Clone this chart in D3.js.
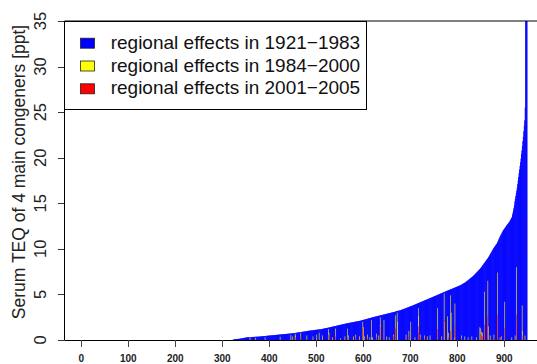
<!DOCTYPE html>
<html>
<head>
<meta charset="utf-8">
<script src="https://cdn.jsdelivr.net/npm/d3@7"></script>
<style>
  body { margin: 0; background: #fff; }
  svg { display: block; }
  text { font-family: "Liberation Sans", Arial, Helvetica, sans-serif; }
</style>
</head>
<body>
<svg id="chart" width="537" height="364"></svg>
<script>
// Serum TEQ per region, sorted ascending (regional effects 1921-1983)
const blueValues = [
  0,0,0,0,0,0,0,0,0,0,0,0,0,0,0,0,0,0,0,0,
  0,0,0,0,0,0,0,0,0,0,0,0,0,0,0,0,0,0,0,0,
  0,0,0,0,0,0,0,0,0,0,0,0,0,0,0,0,0,0,0,0,
  0,0,0,0,0,0,0,0,0,0,0,0,0,0,0,0,0,0,0,0,
  0,0,0,0,0,0,0,0,0,0,0,0,0,0,0,0,0,0,0,0,
  0,0,0,0,0,0,0,0,0,0,0,0,0,0,0,0,0,0,0,0,
  0,0,0,0,0,0,0,0,0,0,0,0,0,0,0,0,0,0,0,0,
  0,0,0,0,0,0,0,0,0,0,0,0,0,0,0,0,0,0,0,0,
  0,0,0,0,0,0,0,0,0,0,0,0,0,0,0,0,0,0,0,0,
  0,0,0,0,0,0,0,0,0,0,0,0,0,0,0,0,0,0,0,0,
  0,0,0,0,0,0,0,0,0,0,0,0,0,0,0,0,0,0,0,0,
  0,0,0,0,0,0,0,0,0,0,0,0,0,0,0,0,0,0,0,0,
  0,0,0,0,0,0,0,0,0,0,0,0,0,0,0,0,0,0,0,0,
  0,0,0,0,0,0,0,0,0,0,0,0,0,0,0,0,0,0,0,0,
  0,0,0,0,0,0,0,0,0,0,0,0,0,0,0,0,0,0,0,0,
  0,0,0,0,0,0,0,0,0,0,0,0,0,0,0,0,0,0,0,0,
  0,0,0,0.05,0.06,0.07,0.08,0.09,0.1,0.1,
  0.1,0.11,0.11,0.12,0.12,0.13,0.13,0.14,0.15,0.16,
  0.17,0.18,0.19,0.2,0.21,0.22,0.23,0.24,0.25,0.26,
  0.27,0.28,0.29,0.29,0.3,0.3,0.3,0.31,0.31,0.31,
  0.32,0.32,0.32,0.33,0.33,0.33,0.34,0.34,0.34,0.35,
  0.35,0.35,0.35,0.36,0.36,0.36,0.36,0.37,0.37,0.38,
  0.38,0.39,0.39,0.4,0.4,0.41,0.41,0.42,0.42,0.43,
  0.43,0.44,0.44,0.45,0.46,0.46,0.47,0.47,0.48,0.48,
  0.49,0.49,0.5,0.5,0.51,0.51,0.52,0.52,0.53,0.53,
  0.54,0.54,0.55,0.55,0.56,0.56,0.57,0.57,0.58,0.58,
  0.59,0.59,0.6,0.6,0.61,0.61,0.62,0.62,0.63,0.63,
  0.64,0.64,0.65,0.65,0.66,0.66,0.67,0.67,0.68,0.68,
  0.69,0.69,0.7,0.7,0.71,0.71,0.72,0.72,0.73,0.73,
  0.74,0.75,0.76,0.76,0.77,0.78,0.79,0.79,0.8,0.81,
  0.82,0.83,0.83,0.84,0.85,0.86,0.87,0.87,0.88,0.89,
  0.9,0.91,0.91,0.92,0.93,0.94,0.95,0.95,0.96,0.97,
  0.98,0.99,1.0,1.01,1.01,1.02,1.03,1.04,1.04,1.05,
  1.06,1.06,1.07,1.08,1.08,1.09,1.1,1.1,1.11,1.12,
  1.12,1.13,1.14,1.14,1.15,1.16,1.16,1.17,1.17,1.18,
  1.19,1.2,1.21,1.22,1.23,1.24,1.26,1.27,1.28,1.29,
  1.3,1.31,1.32,1.33,1.34,1.35,1.36,1.37,1.39,1.4,
  1.41,1.42,1.44,1.45,1.46,1.47,1.48,1.5,1.51,1.52,
  1.53,1.54,1.56,1.57,1.58,1.59,1.6,1.62,1.63,1.64,
  1.65,1.66,1.68,1.69,1.7,1.71,1.72,1.74,1.75,1.76,
  1.77,1.78,1.8,1.81,1.82,1.83,1.84,1.85,1.86,1.87,
  1.88,1.89,1.9,1.91,1.92,1.93,1.94,1.95,1.96,1.97,
  1.98,1.99,2.0,2.01,2.02,2.03,2.04,2.05,2.06,2.07,
  2.08,2.09,2.1,2.11,2.12,2.13,2.15,2.17,2.18,2.2,
  2.21,2.22,2.24,2.25,2.27,2.28,2.29,2.31,2.32,2.34,
  2.35,2.37,2.38,2.4,2.41,2.42,2.44,2.45,2.47,2.48,
  2.5,2.51,2.52,2.54,2.55,2.56,2.58,2.59,2.6,2.61,
  2.63,2.64,2.65,2.66,2.68,2.69,2.7,2.72,2.73,2.74,
  2.75,2.77,2.78,2.79,2.81,2.82,2.83,2.84,2.86,2.87,
  2.88,2.89,2.91,2.92,2.93,2.95,2.96,2.97,2.98,3.0,
  3.01,3.02,3.03,3.05,3.06,3.07,3.08,3.1,3.12,3.14,
  3.16,3.17,3.19,3.2,3.21,3.22,3.23,3.24,3.25,3.27,
  3.29,3.31,3.33,3.35,3.37,3.39,3.41,3.43,3.45,3.47,
  3.49,3.51,3.53,3.55,3.57,3.59,3.61,3.63,3.65,3.67,
  3.69,3.71,3.73,3.75,3.77,3.79,3.81,3.84,3.86,3.88,
  3.9,3.92,3.94,3.96,3.99,4.01,4.03,4.05,4.07,4.1,
  4.12,4.14,4.16,4.18,4.21,4.23,4.25,4.27,4.29,4.32,
  4.34,4.36,4.38,4.4,4.43,4.45,4.47,4.49,4.51,4.54,
  4.56,4.58,4.6,4.62,4.64,4.67,4.69,4.71,4.73,4.76,
  4.78,4.8,4.82,4.84,4.87,4.89,4.91,4.93,4.96,4.98,
  5.0,5.02,5.04,5.07,5.09,5.11,5.13,5.16,5.18,5.2,
  5.22,5.24,5.27,5.29,5.31,5.33,5.36,5.38,5.4,5.42,
  5.44,5.46,5.48,5.51,5.53,5.55,5.57,5.59,5.61,5.63,
  5.66,5.68,5.7,5.72,5.74,5.76,5.78,5.81,5.83,5.85,
  5.87,5.89,5.91,5.94,5.96,5.98,6.0,6.03,6.06,6.09,
  6.12,6.15,6.18,6.21,6.24,6.27,6.3,6.34,6.38,6.42,
  6.46,6.5,6.54,6.58,6.63,6.67,6.71,6.75,6.79,6.83,
  6.88,6.92,6.96,7.0,7.05,7.11,7.16,7.21,7.27,7.32,
  7.37,7.43,7.48,7.53,7.59,7.64,7.69,7.75,7.8,7.87,
  7.94,8.01,8.08,8.15,8.22,8.3,8.37,8.44,8.51,8.58,
  8.65,8.72,8.79,8.86,8.93,9.0,9.09,9.18,9.27,9.36,
  9.45,9.54,9.63,9.72,9.81,9.9,10.0,10.08,10.15,10.23,
  10.3,10.38,10.45,10.53,10.6,10.71,10.83,10.94,11.06,11.17,
  11.29,11.4,11.5,11.6,11.7,11.8,11.9,12.0,12.08,12.15,
  12.23,12.3,12.38,12.45,12.53,12.6,12.67,12.73,12.8,12.87,
  12.93,13.0,13.1,13.2,13.3,13.4,13.5,13.75,14.0,14.25,
  14.5,14.8,15.2,15.5,15.8,16.1,16.4,16.7,17.1,17.5,
  17.9,18.3,18.7,19.1,19.5,19.9,20.4,20.8,21.3,21.8,
  22.3,22.9,23.5,24.1,25.5,37,41,46,55
];

// Regional effects 1984-2000: region rank and value
const yellowRank = [
  359,370,391,423,446,450,455,456,467,480,493,501,506,513,526,527,535,541,552,561,
  566,568,579,584,592,599,600,602,609,614,617,620,628,633,636,637,644,650,655,664,
  668,672,673,691,697,701,710,717,718,721,730,736,742,758,767,772,773,779,781,786,
  787,794,795,809,816,823,831,841,848,850,851,854,858,865,866,870,878,886,891,894,
  901,916,923,926,938,939,944
];
const yellowValue = [
  0.3,0.25,0.3,0.35,0.55,0.4,0.7,0.5,0.8,0.5,0.4,0.6,0.8,0.5,1.2,0.8,0.3,1.25,0.2,0.4,
  1.25,0.5,0.4,0.6,0.4,2.0,1.4,0.4,0.6,0.3,2.2,0.3,0.7,0.5,2.5,1.6,2.2,0.4,0.3,0.6,
  2.7,3.0,2.0,0.6,1.0,2.0,0.3,3.5,2.6,0.6,0.5,0.4,0.5,3.5,0.4,5.1,2.0,2.6,0.8,4.9,
  3.0,0.3,4.0,0.5,0.4,0.3,0.4,0.3,1.4,1.3,0.9,0.8,5.3,6.5,1.5,0.5,0.6,7.4,0.3,0.4,
  4.2,0.3,0.5,8.0,3.8,1.0,0.5
];

// Regional effects 2001-2005: region rank and value
const redRank = [
  456,467,526,541,566,584,599,609,628,636,664,668,697,717,718,721,730,758,772,781,
  786,795,809,850,851,854,858,865,878,886,894,901,926,938
];
const redValue = [
  0.3,0.3,0.6,0.4,0.3,0.3,1.3,0.2,0.3,1.5,0.4,1.3,0.4,1.5,0.8,0.3,0.2,1.2,2.2,0.3,
  1.0,1.5,0.2,0.7,0.5,0.4,1.7,2.7,0.3,2.8,0.2,1.3,2.8,0.5
];

const yTicks = [0, 5, 10, 15, 20, 25, 30, 35];
const xTicks = [0, 100, 200, 300, 400, 500, 600, 700, 800, 900];
const legendLabels = [
  "regional effects in 1921\u22121983",
  "regional effects in 1984\u22122000",
  "regional effects in 2001\u22122005"
];
const seriesColors = ["#0000ff", "#ffff00", "#ff0000"];
const yTitle = "Serum TEQ of 4 main congeners [ppt]";

// ---- layout ----
const W = 537, H = 364;
const plotLeft = 64, plotTop = 21, plotBottom = 340;

const x = d3.scaleLinear().domain([-36.8, 969.6]).range([plotLeft, W]);
const y = d3.scaleLinear().domain([0, 35]).range([plotBottom, plotTop]);
const step = x(1) - x(0);

const svg = d3.select("#chart");
svg.append("rect").attr("width", W).attr("height", H).attr("fill", "#fff");

svg.append("defs").append("clipPath").attr("id", "plotClip")
  .append("rect").attr("x", plotLeft).attr("y", plotTop)
  .attr("width", W - plotLeft).attr("height", plotBottom - plotTop);

const bars = svg.append("g").attr("clip-path", "url(#plotClip)");

// sorted regional effects, drawn left to right with a small overlap so they merge
bars.append("g").selectAll("rect")
  .data(blueValues.map((v, i) => ({ i, v })).filter(d => d.v > 0))
  .join("rect")
  .attr("x", d => x(d.i - 0.5))
  .attr("width", step + 0.4)
  .attr("y", d => y(d.v))
  .attr("height", d => y(0) - y(d.v))
  .attr("fill", seriesColors[0]);

function overlay(ranks, values, color, w) {
  bars.append("g").selectAll("rect")
    .data(ranks.map((r, k) => ({ r, v: values[k] })))
    .join("rect")
    .attr("x", d => x(d.r) - w / 2)
    .attr("width", w)
    .attr("y", d => y(d.v))
    .attr("height", d => y(0) - y(d.v))
    .attr("fill", color);
}
overlay(yellowRank, yellowValue, seriesColors[1], 0.6);
overlay(redRank, redValue, seriesColors[2], 0.55);

// plot frame
svg.append("path")
  .attr("d", `M${W + 5},${plotTop} H${plotLeft + 0.5} V${plotBottom + 0.5} H${W + 5}`)
  .attr("fill", "none").attr("stroke", "#000").attr("stroke-width", 1);

// y axis
const yAxis = svg.append("g");
yAxis.selectAll("line").data(yTicks).join("line")
  .attr("x1", plotLeft - 6).attr("x2", plotLeft)
  .attr("y1", d => Math.round(y(d)) + 0.5).attr("y2", d => Math.round(y(d)) + 0.5)
  .attr("stroke", "#333");
yAxis.selectAll("text").data(yTicks).join("text")
  .attr("transform", d => `translate(46,${y(d)}) rotate(-90)`)
  .attr("text-anchor", "middle")
  .attr("font-size", 16.5)
  .attr("fill", "#222")
  .text(d => d);

svg.append("text")
  .attr("transform", `translate(25,172) rotate(-90)`)
  .attr("text-anchor", "middle")
  .attr("font-size", 17.5)
  .attr("fill", "#222")
  .text(yTitle);

// x axis
const xAxis = svg.append("g");
xAxis.selectAll("line").data(xTicks).join("line")
  .attr("x1", d => Math.round(x(d)) + 0.5).attr("x2", d => Math.round(x(d)) + 0.5)
  .attr("y1", plotBottom).attr("y2", plotBottom + 7)
  .attr("stroke", "#444");
xAxis.selectAll("text").data(xTicks).join("text")
  .attr("x", d => x(d)).attr("y", 362)
  .attr("text-anchor", "middle")
  .attr("font-size", 10)
  .attr("font-weight", "bold")
  .attr("fill", "#222")
  .text(d => d);

// legend
const legend = svg.append("g");
legend.append("rect")
  .attr("x", plotLeft + 0.5).attr("y", plotTop + 0.5)
  .attr("width", 302).attr("height", 88)
  .attr("fill", "#fff").attr("stroke", "#000");
const rows = legend.selectAll("g.row").data(legendLabels).join("g")
  .attr("class", "row")
  .attr("transform", (d, k) => `translate(0,${48.7 + k * 22.8})`);
rows.append("rect")
  .attr("x", 80.5).attr("y", -10.5)
  .attr("width", 14).attr("height", 10)
  .attr("fill", (d, k) => seriesColors[k])
  .attr("stroke", "#222").attr("stroke-width", 0.8);
rows.append("text")
  .attr("x", 110.7).attr("y", 0)
  .attr("font-size", 19)
  .attr("fill", "#111")
  .text(d => d);
</script>
</body>
</html>
